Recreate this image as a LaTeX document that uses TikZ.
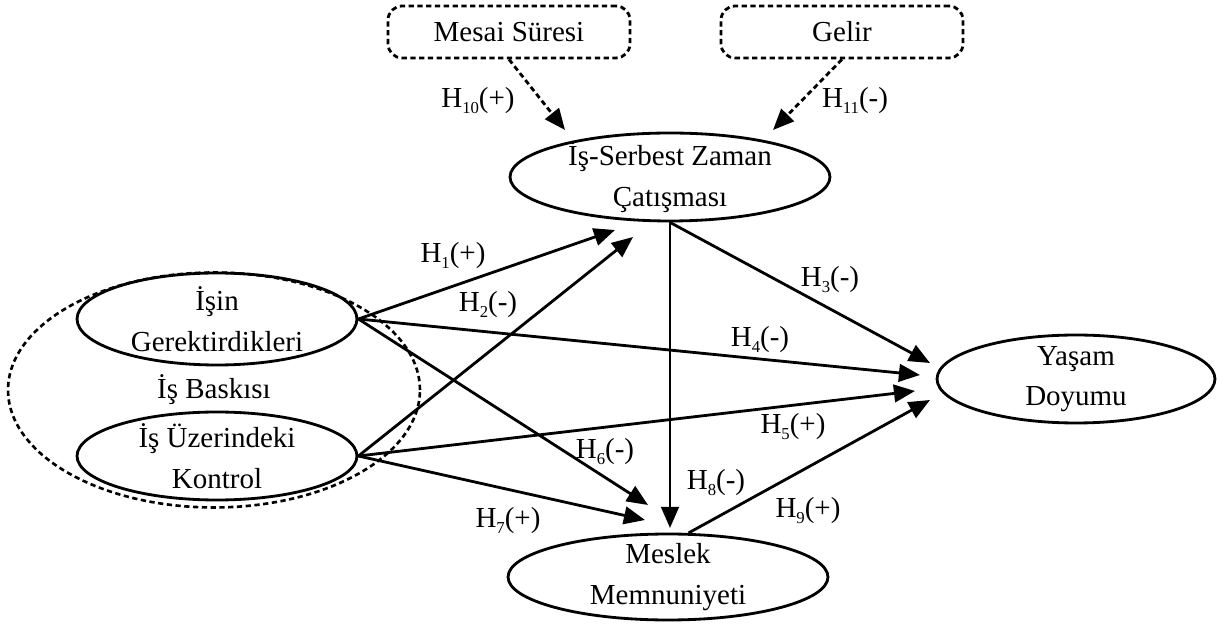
\documentclass[tikz,border=0pt]{standalone}
\usepackage{fontspec}
\setmainfont{Liberation Serif}
\usetikzlibrary{arrows.meta,shapes.geometric}
\newcommand\dfont{\fontsize{16.5}{23}\selectfont}
\newcommand\hsub[1]{\raisebox{-0.45ex}{\fontsize{9.5}{9.5}\selectfont #1}}
\begin{document}
\begin{tikzpicture}[x=0.02cm,y=-0.02cm,
  ell/.style={draw, ellipse, line width=1.6pt, inner sep=0pt},
  ltxt/.style={align=center, font=\dfont, inner sep=0pt},
  box/.style={draw, rounded corners=8pt, line width=1.6pt, dash pattern=on 3pt off 2pt, minimum width=4.84cm, minimum height=1.04cm, font=\dfont},
  arr/.style={-{Triangle[length=12pt,width=10pt]}, line width=1.6pt},
  darr/.style={arr, dash pattern=on 3pt off 2pt},
  lbl/.style={font=\dfont, inner sep=0pt},
]
\useasboundingbox (0,0) rectangle (1217,624);

% nodes
\node[box] (mesai) at (509,32) {Mesai Süresi};
\node[box] (gelir) at (842,32) {Gelir};
\node[ell, minimum width=6.4cm, minimum height=1.76cm,
  label={[ltxt]center:İş-Serbest Zaman\\Çatışması}] (isz) at (670,177) {};
\node[draw, ellipse, line width=1.5pt, dash pattern=on 3pt off 2pt, inner sep=0pt,
  minimum width=8.24cm, minimum height=4.7cm,
  label={[ltxt]center:İş Baskısı}] (baski) at (214,390) {};
\node[ell, minimum width=5.6cm, minimum height=1.84cm,
  label={[ltxt]center:İşin\\Gerektirdikleri}] (isin) at (217,319) {};
\node[ell, minimum width=5.6cm, minimum height=1.76cm,
  label={[ltxt]center:İş Üzerindeki\\Kontrol}] (kontrol) at (217,456) {};
\node[ell, minimum width=5.56cm, minimum height=1.76cm,
  label={[ltxt]center:Yaşam\\Doyumu}] (yasam) at (1076,379) {};
\node[ell, minimum width=6.4cm, minimum height=1.72cm,
  label={[ltxt]center:Meslek\\Memnuniyeti}] (meslek) at (668,577) {};

% arrow tips
\coordinate (t10) at (565,130);
\coordinate (t11) at (773,130);
\coordinate (t1) at (615,230);
\coordinate (t2) at (633,237);
\coordinate (t3) at (930,363);
\coordinate (t4) at (920,375);
\coordinate (t5) at (915,391);
\coordinate (t9) at (930,400);
\coordinate (t6) at (648,505);
\coordinate (t7) at (645,520);
\coordinate (t8) at (670,528);

% connectors
\draw[darr] (mesai.south) -- (t10);
\draw[darr] (gelir.south) -- (t11);
\draw[arr] (isin.east) -- (t1);
\draw[arr] (isin.east) -- (t4);
\draw[arr] (isin.east) -- (t6);
\draw[arr] (kontrol.east) -- (t2);
\draw[arr] (kontrol.east) -- (t5);
\draw[arr] (kontrol.east) -- (t7);
\draw[arr] (isz.south) -- (t8);
\draw[arr] (isz.south) -- (t3);
\draw[arr] (meslek.65) -- (t9);

% labels
\node[lbl] (h10) at (478,101) {H\hsub{10}(+)};
\node[lbl] (h11) at (855,101) {H\hsub{11}(-)};
\node[lbl] (h1) at (453,256) {H\hsub{1}(+)};
\node[lbl] (h2) at (488,305) {H\hsub{2}(-)};
\node[lbl] (h3) at (830,280) {H\hsub{3}(-)};
\node[lbl] (h4) at (760,340) {H\hsub{4}(-)};
\node[lbl] (h5) at (793,427) {H\hsub{5}(+)};
\node[lbl] (h6) at (605,452) {H\hsub{6}(-)};
\node[lbl] (h7) at (508,521) {H\hsub{7}(+)};
\node[lbl] (h8) at (716,483) {H\hsub{8}(-)};
\node[lbl] (h9) at (808,511) {H\hsub{9}(+)};
\end{tikzpicture}
\end{document}
